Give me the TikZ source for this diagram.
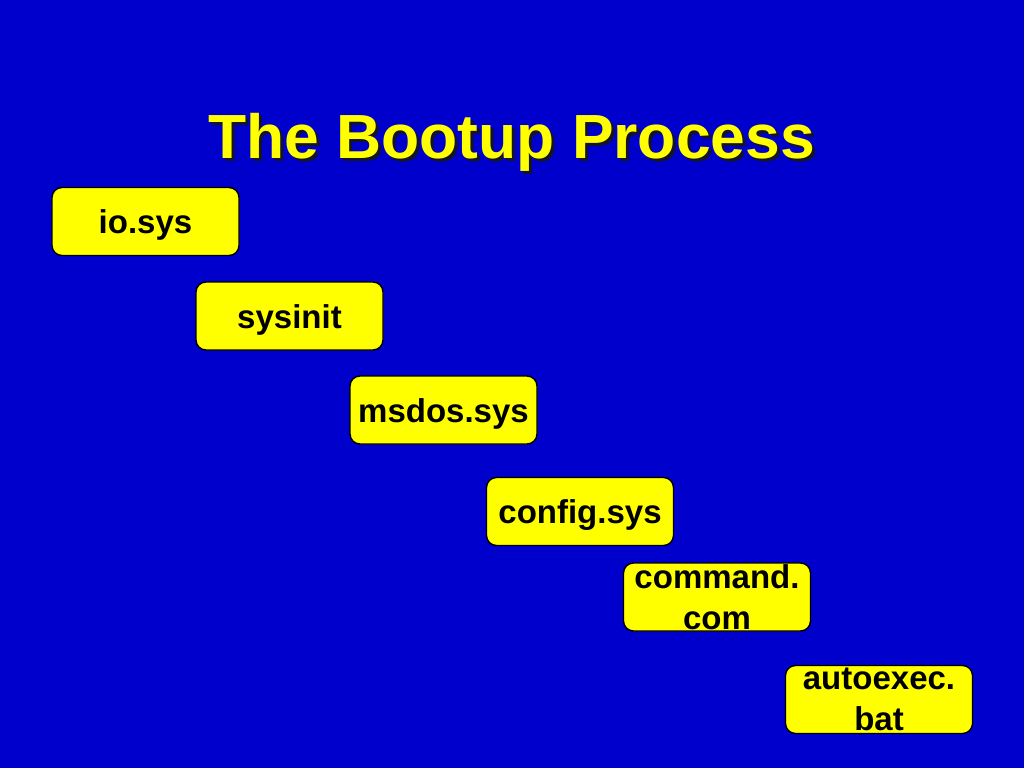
\documentclass[tikz,border=0pt]{standalone}
\usepackage{fontspec}
\setmainfont{Liberation Sans}
\definecolor{bgblue}{RGB}{0,0,204}
\definecolor{boxyellow}{RGB}{255,255,0}
\definecolor{titleyellow}{RGB}{255,255,0}
\definecolor{shadowcol}{RGB}{20,20,40}
\tikzset{
  stagebox/.style={draw=black, line width=1.4pt, fill=boxyellow, rounded corners=10pt,
    minimum width=187pt, minimum height=68pt, inner sep=0pt, align=center,
    font=\fontsize{33}{41}\selectfont\bfseries, text=black},
  oneline/.style={text height=24pt, text depth=0pt},
  titletext/.style={font=\fontsize{62.4}{75}\selectfont\bfseries, inner sep=0pt, anchor=base}
}
\begin{document}
\begin{tikzpicture}[x=1pt,y=-1pt]
\fill[bgblue] (0,0) rectangle (1024,768);
\useasboundingbox (0,0) rectangle (1024,768);
\node[titletext, text=shadowcol] (titleshadow) at (514.5,161) {The Bootup Process};
\node[titletext, text=titleyellow] (title) at (511.5,158) {The Bootup Process};
\node[stagebox, oneline] (io) at (145.5,221.5) {io.sys};
\node[stagebox, oneline] (sysinit) at (289.5,316) {sysinit};
\node[stagebox, oneline] (msdos) at (443.5,410) {msdos.sys};
\node[stagebox, oneline] (config) at (580,511.5) {config.sys};
\node[stagebox] (command) at (717,597) {command.\\com};
\node[stagebox] (autoexec) at (879,699.5) {autoexec.\\bat};
\end{tikzpicture}
\end{document}
